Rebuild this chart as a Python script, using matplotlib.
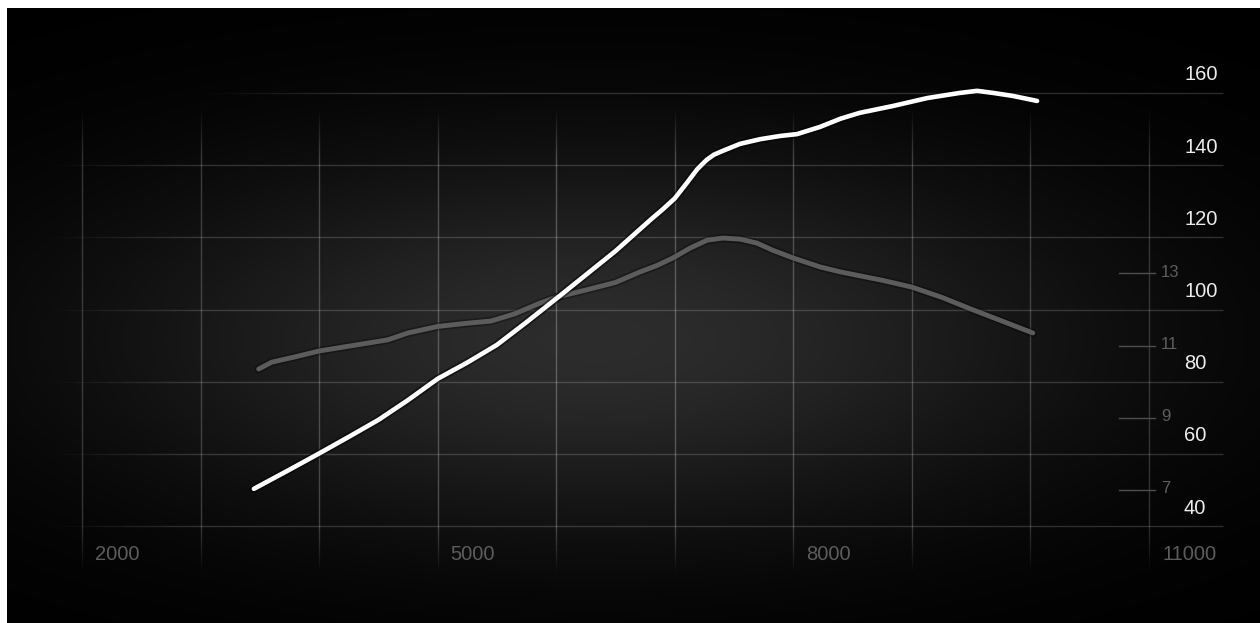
import numpy as np
import matplotlib
matplotlib.use("Agg")
import matplotlib.pyplot as plt
from matplotlib.collections import LineCollection
import matplotlib.patheffects as pe

# ---------------- data ----------------
rpm_ticks = [2000, 5000, 8000, 11000]
rpm_grid = [2000, 3000, 4000, 5000, 6000, 7000, 8000, 9000, 10000, 11000]
power_ticks = [40, 60, 80, 100, 120, 140, 160]
torque_ticks = [7, 9, 11, 13]

rpm_power = [3450, 3750, 4000, 4250, 4500, 4750, 5000, 5250, 5500, 5750, 6000,
             6250, 6500, 6800, 6900, 7000, 7100, 7190, 7270, 7330, 7400, 7550, 7720, 7890,
             8030, 8225, 8400, 8560, 8840, 9130, 9400, 9550, 9690, 9850, 10056]
power = [50.3, 55.6, 60.1, 64.7, 69.4, 74.9, 80.8, 85.3, 90.2, 96.5, 103.0,
         109.6, 116.2, 125.0, 127.8, 130.8, 135.0, 138.9, 141.5, 142.9, 143.9, 145.9, 147.2, 148.1,
         148.6, 150.6, 152.9, 154.5, 156.4, 158.6, 160.0, 160.6, 160.0, 159.2, 157.8]

rpm_torque = [3490, 3600, 3800, 4000, 4300, 4580, 4750, 5000, 5250, 5450, 5650,
              5850, 6000, 6250, 6500, 6706, 6850, 6985, 7128, 7272, 7407, 7550,
              7693, 7828, 7997, 8225, 8400, 8750, 9000, 9250, 9500, 9800, 10020]
torque = [10.35, 10.54, 10.69, 10.85, 11.01, 11.16, 11.35, 11.53, 11.62, 11.68, 11.88,
          12.16, 12.34, 12.54, 12.75, 13.04, 13.22, 13.43, 13.70, 13.92, 13.98, 13.95,
          13.84, 13.64, 13.43, 13.18, 13.04, 12.81, 12.62, 12.34, 12.01, 11.63, 11.35]

# ---------------- figure ----------------
W, H = 1260, 623
fig = plt.figure(figsize=(W / 100, H / 100), dpi=100, facecolor="white")
ax = fig.add_axes([7 / W, 0, (W - 7) / W, (H - 8) / H])
ax.set_facecolor("black")

px_per_k = (1149 - 82) / 9.0 / 1000.0     # px per rpm
px_per_u = (526 - 93) / 120.0             # px per power unit
x0 = 2000 - (82 - 7) / px_per_k
x1 = 2000 + (1260 - 82) / px_per_k
y1 = 40 + (526 - 8) / px_per_u
y0 = 40 - (623 - 526) / px_per_u
ax.set_xlim(x0, x1)
ax.set_ylim(y0, y1)
for s in ax.spines.values():
    s.set_visible(False)
ax.set_xticks([]); ax.set_yticks([])

# background radial glow
nx, ny = 600, 300
gx = np.linspace(0, 1, nx)
gy = np.linspace(0, 1, ny)
GX, GY = np.meshgrid(gx, gy)
cx, cy = 0.47, 0.46
glow = 0.175 * np.exp(-0.5 * (((GX - cx) / 0.28) ** 2 + ((GY - cy) / 0.22) ** 2))
img = np.dstack([glow, glow, glow])
ax.imshow(img, extent=[0, 1, 0, 1], transform=ax.transAxes, origin="lower",
          aspect="auto", zorder=0, interpolation="bilinear")

def fade_line(axis, xs, ys, alphas, color, lw, z):
    pts = np.column_stack([xs, ys])
    segs = np.stack([pts[:-1], pts[1:]], axis=1)
    a = 0.5 * (alphas[:-1] + alphas[1:])
    cols = np.zeros((len(a), 4))
    cols[:, :3] = matplotlib.colors.to_rgb(color)
    cols[:, 3] = a
    axis.add_collection(LineCollection(segs, colors=cols, linewidths=lw, zorder=z))

# vertical grid lines (fading at both ends)
vy = np.linspace(27, 156, 200)
va = np.clip((156 - vy) / 14, 0, 1) * np.clip((vy - 27) / 14, 0, 1)
for r in rpm_grid:
    dist = abs(r - 6300) / 5000.0
    fade_line(ax, np.full_like(vy, r), vy, va * (0.27 - 0.09 * dist), "white", 1.0, 1)

# horizontal grid lines (fading at the left)
xend = 11000 + (1223 - 1149) / px_per_k
for v in power_ticks:
    start = 2950 if v == 160 else 1700
    hx = np.linspace(start, xend, 300)
    ramp = 1500 if v == 160 else 1300
    ha = np.clip((hx - start) / ramp, 0, 1) * 0.17
    fade_line(ax, hx, np.full_like(hx, v), ha, "white", 1.0, 1)

# x labels
for r in rpm_ticks:
    ax.annotate(f"{r}", xy=(r, 40), xytext=(13, -28), textcoords="offset pixels",
                ha="left", va="center", color="#5c5c5c", fontsize=14.5,
                family="Liberation Sans", zorder=5)

# right power labels
for v in power_ticks:
    ax.annotate(f"{v}", xy=(11000, v), xytext=(35, 18), textcoords="offset pixels",
                ha="left", va="center", color="#ececec", fontsize=14.5,
                family="Liberation Sans", zorder=5)

# secondary axis (torque)
ax2 = ax.twinx()
ax2.set_ylim((y0 + 20) / 10.0, (y1 + 20) / 10.0)
ax2.set_xlim(x0, x1)
for s in ax2.spines.values():
    s.set_visible(False)
ax2.set_xticks([]); ax2.set_yticks([])
tx0 = 11000 - 30 / px_per_k
tx1 = 11000 + 6 / px_per_k
for t in torque_ticks:
    ax2.plot([tx0, tx1], [t, t], color="#4e4e4e", lw=1.0, zorder=3)
    ax2.annotate(f"{t}", xy=(11000, t), xytext=(12, 1), textcoords="offset pixels",
                 ha="left", va="center", color="#5e5e5e", fontsize=12,
                 family="Liberation Sans", zorder=5)

# torque curve (secondary axis)
ax2.plot(rpm_torque, torque, color="#5c5c5c", lw=3.5, solid_capstyle="round",
         solid_joinstyle="round", zorder=4,
         path_effects=[pe.Stroke(linewidth=6, foreground=(0, 0, 0, 0.3)), pe.Normal()])

# power curve (primary axis, drawn on top)
ax3 = ax.twinx()
ax3.set_ylim(y0, y1)
ax3.set_xlim(x0, x1)
ax3.axis("off")
ax3.plot(rpm_power, power, color="#ffffff", lw=3.3,
         solid_capstyle="round", solid_joinstyle="round", zorder=6,
         path_effects=[pe.Stroke(linewidth=6, foreground=(0, 0, 0, 0.45)), pe.Normal()])

fig.savefig("out.png", dpi=100, facecolor="white")
